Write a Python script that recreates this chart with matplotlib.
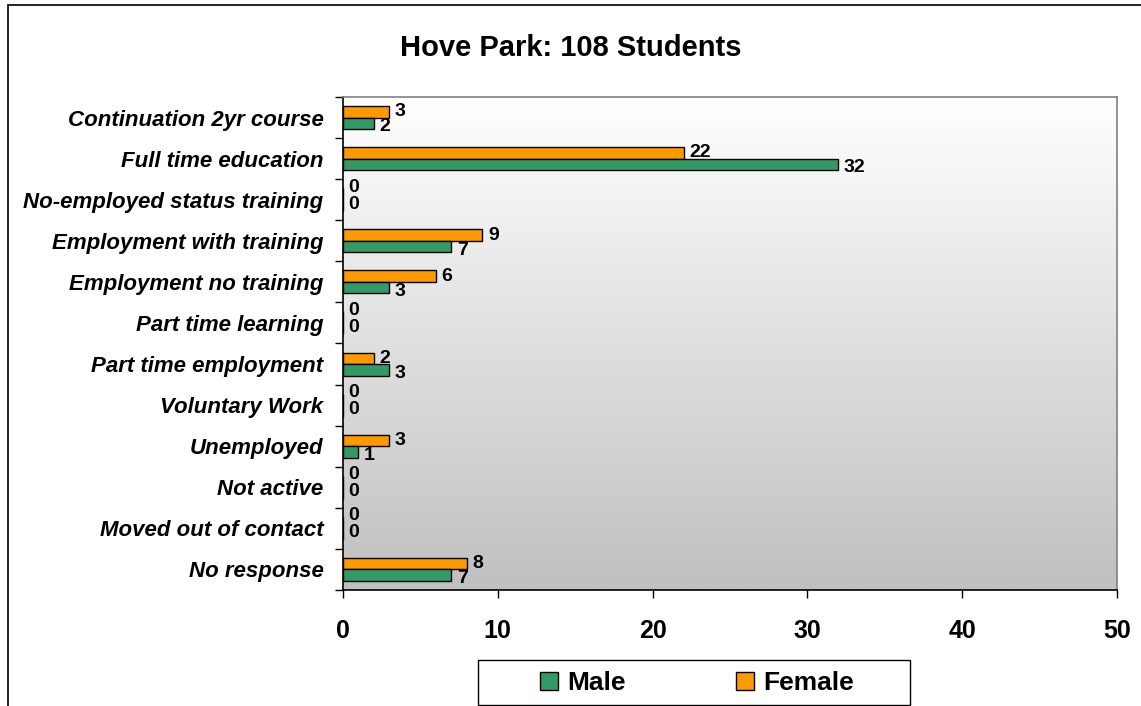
import matplotlib
matplotlib.use('Agg')
import matplotlib.pyplot as plt
import numpy as np
from matplotlib.colors import LinearSegmentedColormap
from matplotlib.lines import Line2D
from matplotlib.patches import Rectangle

categories = ['Continuation 2yr course', 'Full time education',
              'No-employed status training', 'Employment with training',
              'Employment no training', 'Part time learning',
              'Part time employment', 'Voluntary Work', 'Unemployed',
              'Not active', 'Moved out of contact', 'No response']
female = [3, 22, 0, 9, 6, 0, 2, 0, 3, 0, 0, 8]
male = [2, 32, 0, 7, 3, 0, 3, 0, 1, 0, 0, 7]
xticks = [0, 10, 20, 30, 40, 50]

green = '#339966'
orange = '#FF9900'

plt.rcParams['font.family'] = ['Liberation Sans', 'DejaVu Sans']

W, H = 1141, 706
fig = plt.figure(figsize=(W / 100, H / 100), dpi=100)

# outer chart border (only top and left visible)
fig.patches.append(Rectangle((8 / W, -0.5), 2, 1.5 - 5 / H, transform=fig.transFigure,
                             fill=False, edgecolor='black', linewidth=1.2))

ax = fig.add_axes([343 / W, (H - 590) / H, (1117 - 343) / W, (590 - 97) / H])

cmap = LinearSegmentedColormap.from_list('bg', ['#ffffff', '#c0c0c0'])
grad = np.linspace(0, 1, 256).reshape(-1, 1)
ax.imshow(grad, cmap=cmap, extent=[0, 1, 0, 1], transform=ax.transAxes,
          aspect='auto', zorder=0)

y = np.arange(len(categories))
h = 0.28
ax.barh(y - h / 2, female, height=h, color=orange, edgecolor='black', linewidth=1, zorder=2)
ax.barh(y + h / 2, male, height=h, color=green, edgecolor='black', linewidth=1, zorder=2)

for i in range(len(categories)):
    fy = 5 if female[i] == 0 else 0
    my = 1 if male[i] == 0 else -2.5
    ax.annotate(str(female[i]), (female[i], y[i] - h / 2), xytext=(4, fy),
                textcoords='offset points', ha='left', va='center',
                fontsize=14, fontweight='bold', zorder=3)
    ax.annotate(str(male[i]), (male[i], y[i] + h / 2), xytext=(4, my),
                textcoords='offset points', ha='left', va='center',
                fontsize=14, fontweight='bold', zorder=3)

ax.set_xlim(0, 50)
ax.set_ylim(len(categories) - 0.5, -0.5)
ax.set_xticks(xticks)
ax.set_xticklabels([str(t) for t in xticks], fontsize=18, fontweight='bold')
ax.tick_params(axis='x', direction='out', length=6, width=1, pad=15)

ax.set_yticks(np.arange(len(categories) + 1) - 0.5)
ax.set_yticklabels([])
ax.tick_params(axis='y', which='major', direction='out', length=6, width=1)
ax.set_yticks(y, minor=True)
ax.set_yticklabels(categories, minor=True, fontsize=16, fontweight='bold', style='italic')
ax.tick_params(axis='y', which='minor', length=0, pad=14)

ax.spines['left'].set_color('black')
ax.spines['bottom'].set_color('black')
ax.spines['top'].set_color('#808080')
ax.spines['right'].set_color('#808080')
for s in ax.spines.values():
    s.set_linewidth(1.2)

fig.text(571 / W, 1 - 48 / H, 'Hove Park: 108 Students', ha='center', va='center',
         fontsize=21, fontweight='bold')

# legend
handles = [Line2D([], [], marker='s', linestyle='none', markersize=13,
                  markerfacecolor=green, markeredgecolor='black', markeredgewidth=1),
           Line2D([], [], marker='s', linestyle='none', markersize=13,
                  markerfacecolor=orange, markeredgecolor='black', markeredgewidth=1)]
prop = {'size': 19, 'weight': 'bold'}
fig.legend(handles, ['Male', 'Female'], loc='center', ncol=2, frameon=False,
           bbox_to_anchor=(696 / W, 1 - 683 / H), bbox_transform=fig.transFigure,
           prop=prop, handlelength=0.8, handletextpad=0.3, columnspacing=4.1)
fig.patches.append(Rectangle((478 / W, 1 - 705 / H), (910 - 478) / W, 45 / H,
                             transform=fig.transFigure, fill=False,
                             edgecolor='black', linewidth=1))

fig.savefig('out.png', dpi=100)
